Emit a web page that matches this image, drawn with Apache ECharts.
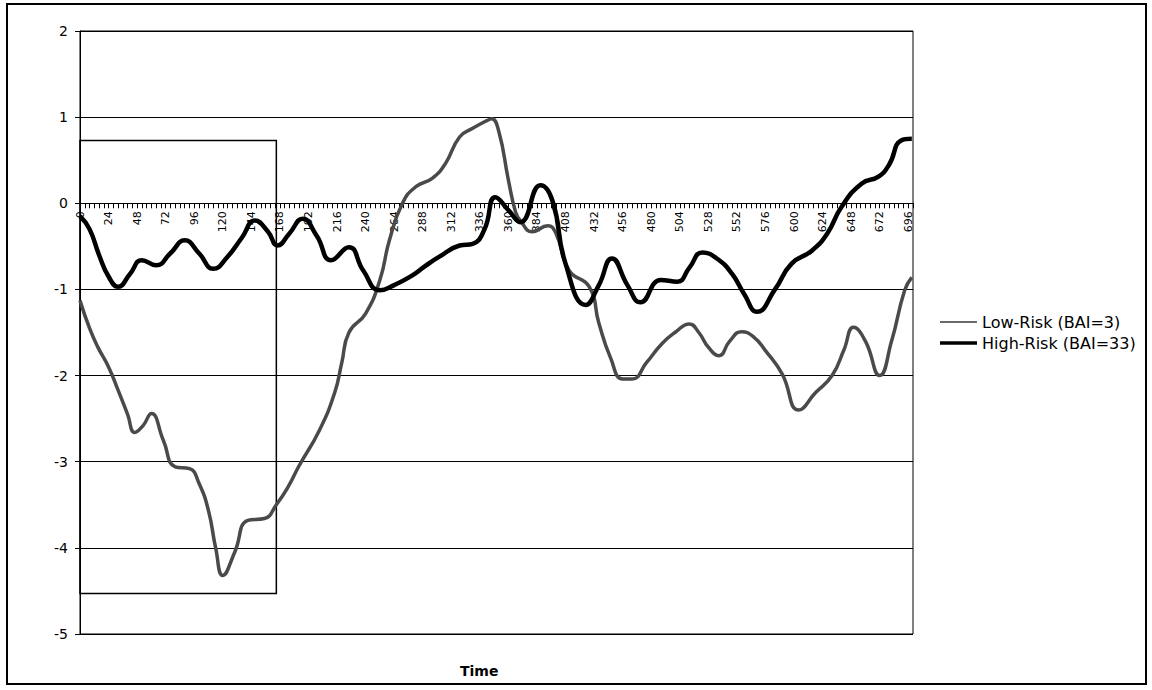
<!DOCTYPE html>
<html>
<head>
<meta charset="utf-8">
<script src="https://cdn.jsdelivr.net/npm/echarts@6/dist/echarts.min.js"></script>
<style>
html,body{margin:0;padding:0;background:#fff;}
#c{width:1152px;height:690px;}
</style>
</head>
<body>
<div id="c"></div>
<script>
// ---- data ----
var seriesNames = ['Low-Risk (BAI=3)', 'High-Risk (BAI=33)'];

var lowTime = [0, 8, 15, 24, 32, 40, 46, 53, 60, 70, 80, 92, 100, 108, 114, 120, 130, 141, 155, 165, 175, 184, 201, 214, 220, 226, 240, 252, 260, 271, 282, 296, 307, 319, 330, 342, 346, 352, 360, 366, 370, 380, 393, 400, 411, 428, 436, 446, 456, 464, 476, 489, 500, 512, 520, 528, 537, 546, 556, 566, 576, 590, 604, 618, 632, 642, 650, 660, 672, 682, 693, 699];
var lowVal = [-1.13, -1.45, -1.67, -1.90, -2.17, -2.45, -2.66, -2.58, -2.44, -2.75, -3.06, -3.08, -3.25, -3.57, -4.0, -4.32, -4.05, -3.68, -3.66, -3.5, -3.29, -3.05, -2.64, -2.2, -1.85, -1.5, -1.28, -0.89, -0.43, 0.0, 0.19, 0.29, 0.46, 0.77, 0.87, 0.96, 0.98, 0.83, 0.27, -0.1, -0.2, -0.33, -0.26, -0.35, -0.78, -0.97, -1.39, -1.8, -2.04, -2.04, -1.85, -1.63, -1.5, -1.40, -1.5, -1.67, -1.77, -1.6, -1.49, -1.55, -1.71, -1.98, -2.40, -2.2, -2.0, -1.7, -1.44, -1.6, -2.0, -1.6, -1.01, -0.86];

var highTime = [0, 8, 16, 24, 32, 42, 52, 64, 76, 88, 100, 112, 124, 136, 147, 158, 166, 176, 187, 199, 211, 226, 238, 252, 264, 279, 290, 302, 319, 330, 340, 349, 360, 370, 387, 397, 408, 425, 436, 447, 460, 471, 488, 502, 512, 523, 536, 548, 558, 569, 584, 598, 615, 628, 640, 657, 671, 680, 690, 699];
var highVal = [-0.15, -0.3, -0.6, -0.85, -0.97, -0.82, -0.66, -0.72, -0.58, -0.43, -0.58, -0.76, -0.62, -0.4, -0.2, -0.33, -0.49, -0.35, -0.18, -0.38, -0.66, -0.51, -0.78, -1.01, -0.95, -0.84, -0.73, -0.62, -0.49, -0.47, -0.3, 0.07, -0.08, -0.22, 0.21, 0.03, -0.70, -1.18, -0.95, -0.64, -0.95, -1.15, -0.89, -0.91, -0.75, -0.57, -0.65, -0.82, -1.05, -1.26, -1.0, -0.70, -0.55, -0.35, -0.04, 0.23, 0.31, 0.45, 0.73, 0.75];

// highlighted window (time range and value range)
var boxTime = [0, 165];
var boxVal = [0.73, -4.53];

var yTicks = {min: -5, max: 2, step: 1};
var xTicks = {min: 0, max: 700, step: 24, minorSplit: 6};

function pairs(t, v) { return t.map(function (x, i) { return [x, v[i]]; }); }

var gridTop = 31, gridBottom = 56, chartH = 690;
var plotH = chartH - gridTop - gridBottom;
// distance of the zero line above the bottom of the plot
var zeroOffset = plotH * (0 - yTicks.min) / (yTicks.max - yTicks.min);

var chart = echarts.init(document.getElementById('c'), null, {renderer: 'svg'});
var font = 'DejaVu Sans, Verdana, sans-serif';

chart.setOption({
  animation: false,
  backgroundColor: '#fff',
  grid: {left: 80, right: 239, top: gridTop, bottom: gridBottom, show: true, borderColor: '#000', borderWidth: 1, backgroundColor: 'transparent'},
  title: {text: 'Time', left: 455, top: 659, textStyle: {fontFamily: font, fontSize: 14, fontWeight: 'bold', color: '#000'}},
  legend: {
    orient: 'vertical', left: 935, top: 309, itemWidth: 37, itemHeight: 14, itemGap: 5,
    textStyle: {fontFamily: font, fontSize: 16, color: '#000'},
    data: [
      {name: seriesNames[0], icon: 'path://M0,0H37V2H0Z', itemStyle: {color: '#6a6a6a'}},
      {name: seriesNames[1], icon: 'path://M0,0H37V3.5H0Z', itemStyle: {color: '#000'}}
    ]
  },
  graphic: [{type: 'rect', shape: {x: 7, y: 4, width: 1139, height: 680}, style: {fill: 'none', stroke: '#000', lineWidth: 2}, silent: true}],
  xAxis: {
    type: 'value', min: xTicks.min, max: xTicks.max, interval: xTicks.step,
    position: 'bottom', offset: -zeroOffset,
    axisLine: {onZero: false, lineStyle: {color: '#000', width: 1}},
    axisTick: {show: true, length: 5, lineStyle: {color: '#000'}},
    minorTick: {show: true, splitNumber: xTicks.minorSplit, length: 5, lineStyle: {color: '#000'}},
    splitLine: {show: false},
    axisLabel: {rotate: 90, fontFamily: font, fontSize: 11, color: '#000', margin: 8, showMaxLabel: false}
  },
  yAxis: {
    type: 'value', min: yTicks.min, max: yTicks.max, interval: yTicks.step,
    axisLine: {show: true, lineStyle: {color: '#000', width: 1}},
    axisTick: {show: true, length: 5, lineStyle: {color: '#000'}},
    splitLine: {show: true, lineStyle: {color: '#000', width: 1}},
    axisLabel: {fontFamily: font, fontSize: 14, color: '#000', margin: 12}
  },
  series: [
    {
      name: seriesNames[0], type: 'line', smooth: 0.5, showSymbol: false, symbol: 'none',
      data: pairs(lowTime, lowVal),
      lineStyle: {color: '#4a4a4a', width: 3.5},
      itemStyle: {color: '#4a4a4a'},
      markArea: {
        silent: true,
        itemStyle: {color: 'rgba(0,0,0,0)', borderColor: '#000', borderWidth: 1.5},
        data: [[{xAxis: boxTime[0], yAxis: boxVal[0]}, {xAxis: boxTime[1], yAxis: boxVal[1]}]]
      },
      z: 3
    },
    {
      name: seriesNames[1], type: 'line', smooth: 0.5, showSymbol: false, symbol: 'none',
      data: pairs(highTime, highVal),
      lineStyle: {color: '#000', width: 4.5},
      itemStyle: {color: '#000'},
      z: 4
    }
  ]
});
</script>
</body>
</html>
